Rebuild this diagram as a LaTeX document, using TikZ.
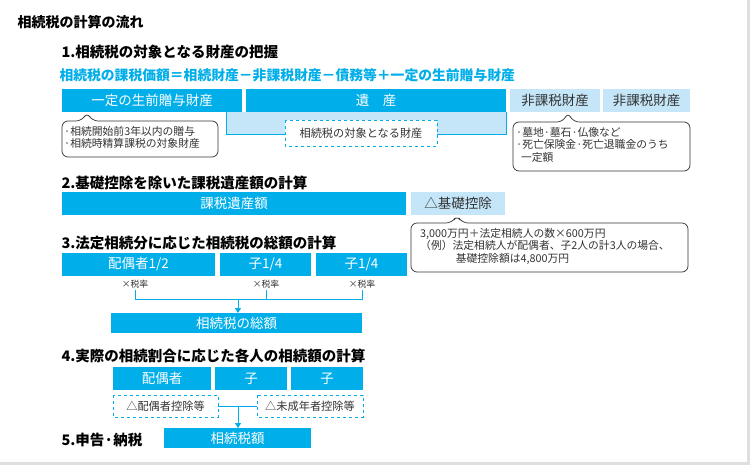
\documentclass[tikz,border=0pt]{standalone}
\usepackage{fontspec}
\setmainfont{Noto Sans CJK JP}
\usetikzlibrary{arrows.meta}
\definecolor{cb}{HTML}{00AEEA}
\definecolor{lb}{HTML}{C4E6F8}
\definecolor{tx}{HTML}{333333}
\tikzset{x=1pt,y=-1pt,
 dk/.style={text=white,font=\fontsize{13.5}{13.5}\selectfont},
 lt/.style={text=tx,font=\fontsize{13.5}{13.5}\selectfont},
 dsh/.style={draw=cb,dashed,fill=white,line width=0.8pt},
 dtx/.style={text=tx,font=\fontsize{11.2}{11.2}\selectfont},
 call/.style={draw=tx,rounded corners=6pt,fill=white,line width=0.7pt},
 hd/.style={anchor=west,font=\bfseries\fontsize{14.5}{14.5}\selectfont,text=black},
 sm/.style={font=\fontsize{10.8}{12.5}\selectfont,text=tx,align=left,anchor=north west,inner sep=0pt},
 ln/.style={draw=cb,line width=1pt},
 arr/.style={ln,-{Triangle[length=5pt,width=6pt]}}}
\begin{document}
\begin{tikzpicture}
\fill[gray!25] (0,0) rectangle (750,465);
\fill[white] (0,0) rectangle (747,462);
\node[anchor=west,font=\bfseries\fontsize{14}{14}\selectfont] (t) at (14,22) {相続税の計算の流れ};
\node[hd] (h1) at (58,52) {1.相続税の対象となる財産の把握};
\node[hd,text=cb,font=\bfseries\fontsize{13.8}{13.8}\selectfont] (f) at (56,75) {相続税の課税価額＝相続財産－非課税財産－債務等＋一定の生前贈与財産};
\path[fill=lb,draw=cb,line width=0.8pt] (226,112) -- (226,134) -- (506,134) -- (506,112);
\path[fill=cb] (62,89) rectangle (242,112);
\node[dk] (a1) at (152,100.5) {一定の生前贈与財産};
\path[fill=cb] (246,89) rectangle (506,112);
\node[dk] (a2) at (376,100.5) {遺\quad 産};
\path[fill=lb] (510,89) rectangle (600,112);
\node[lt] (a3) at (555,100.5) {非課税財産};
\path[fill=lb] (603,89) rectangle (690,112);
\node[lt] (a4) at (646.5,100.5) {非課税財産};
\path[dsh] (285,120) rectangle (437,146);
\node[dtx] (d1) at (361,133) {相続税の対象となる財産};
\draw[call] (82,121) -- (87,112) -- (92,121) -| (218,157) -| (62,121) -- cycle;
\node[sm] (c1) at (64,126) {·相続開始前3年以内の贈与\\·相続時精算課税の対象財産};
\draw[call] (563,122) -- (568,112) -- (573,122) -| (690,171) -| (513,122) -- cycle;
\node[sm] (c2) at (516,127) {·墓地·墓石·仏像など\\·死亡保険金·死亡退職金のうち\\\ \ 一定額};
\node[hd] (h2) at (58,183) {2.基礎控除を除いた課税遺産額の計算};
\path[fill=cb] (62,192) rectangle (406,215);
\node[dk] (b1) at (234,203.5) {課税遺産額};
\path[fill=lb] (411,192) rectangle (505,215);
\node[lt] (b2) at (458,203.5) {△基礎控除};
\draw[call] (452,223) -- (457,215) -- (462,223) -| (688,272) -| (411,223) -- cycle;
\node[sm] (c3) at (420,228) {3,000万円＋法定相続人の数×600万円\\（例）法定相続人が配偶者、子2人の計3人の場合、\\\hspace{3.3em}基礎控除額は4,800万円};
\node[hd] (h3) at (58,243) {3.法定相続分に応じた相続税の総額の計算};
\path[fill=cb] (62,253) rectangle (215,276); \node[dk] (p1) at (138.5,264.5) {配偶者1/2};
\path[fill=cb] (220,253) rectangle (311,276); \node[dk] (p2) at (265.5,264.5) {子1/4};
\path[fill=cb] (316,253) rectangle (407,276); \node[dk] (p3) at (361.5,264.5) {子1/4};
\node[font=\fontsize{8.8}{8.8}\selectfont,text=tx] (r1) at (135,284) {×税率};
\node[font=\fontsize{8.8}{8.8}\selectfont,text=tx] (r2) at (266,284) {×税率};
\node[font=\fontsize{8.8}{8.8}\selectfont,text=tx] (r3) at (362,284) {×税率};
\path[fill=cb] (111,313) rectangle (362,333);
\node[dk] (s) at (236.5,323) {相続税の総額};
\draw[ln] (135,290) |- (362,299) -- (362,290);
\draw[ln] (266,290) -- (266,299);
\coordinate (m1) at (238,299);
\draw[arr] (m1) -- (238,313);
\node[hd] (h4) at (58,356) {4.実際の相続割合に応じた各人の相続額の計算};
\path[fill=cb] (113,367) rectangle (211,390); \node[dk] (q1) at (162,378.5) {配偶者};
\path[fill=cb] (215,367) rectangle (287,390); \node[dk] (q2) at (251,378.5) {子};
\path[fill=cb] (291,367) rectangle (363,390); \node[dk] (q3) at (327,378.5) {子};
\path[dsh] (113,395) rectangle (218,417);
\node[dtx] (e1) at (165.5,406) {△配偶者控除等};
\path[dsh] (257,395) rectangle (363,417);
\node[dtx] (e2) at (310,406) {△未成年者控除等};
\draw[ln] (218,406) -- (257,406);
\coordinate (m2) at (238,406);
\path[fill=cb] (164,428) rectangle (311,448);
\node[dk] (z) at (237.5,438) {相続税額};
\draw[arr] (m2) -- (238,428);
\node[hd] (h5) at (58,440) {5.申告·納税};
\end{tikzpicture}
\end{document}
